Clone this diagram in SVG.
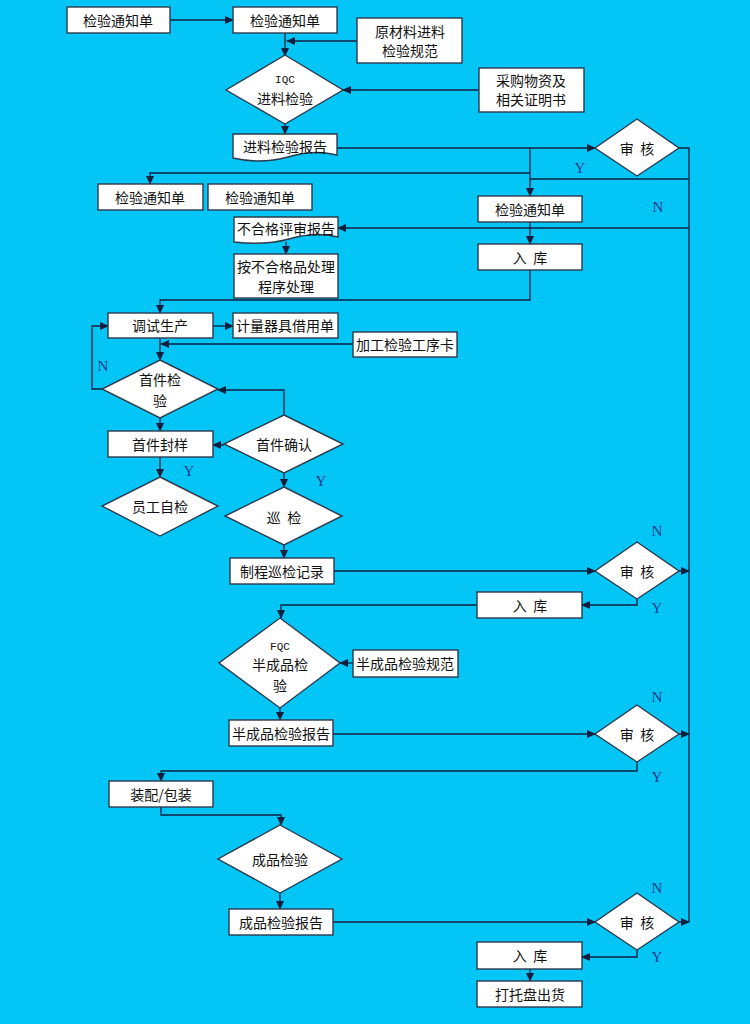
<svg xmlns="http://www.w3.org/2000/svg" width="750" height="1024" viewBox="0 0 750 1024">
<defs>
<style>
.b{fill:#fff;stroke:#2b3a4c;stroke-width:1.4}
.t{font-family:"Noto Sans CJK SC","Noto Sans CJK JP",sans-serif;font-size:14px;fill:#111;text-anchor:middle;dominant-baseline:central;white-space:pre}
.s{font-family:"Liberation Mono","DejaVu Sans Mono",monospace;font-size:11px;fill:#111;text-anchor:middle;dominant-baseline:central}
.c path{fill:none;stroke:#0d2040;stroke-width:1.3}
.l{font-family:"Liberation Serif","DejaVu Serif",serif;font-size:15px;fill:#1d3c8c;text-anchor:middle;dominant-baseline:central}
</style>
<marker id="a" markerWidth="9" markerHeight="8" refX="8" refY="4" orient="auto" markerUnits="userSpaceOnUse">
<path d="M0,0 L9,4 L0,8 Z" fill="#0d2040"/>
</marker>
</defs>
<rect width="750" height="1024" fill="#04c6f6"/>

<g class="c">
<path d="M170,20 H233" marker-end="url(#a)"/>
<path d="M285,33 V56" marker-end="url(#a)"/>
<path d="M357,41 H287" marker-end="url(#a)"/>
<path d="M479,90 H343" marker-end="url(#a)"/>
<path d="M285,124 V134" marker-end="url(#a)"/>
<path d="M337,148 H595" marker-end="url(#a)"/>
<path d="M679,148 H689 V922"/>
<path d="M689,179 H530"/>
<path d="M530,148 V196" marker-end="url(#a)"/>
<path d="M530,173 H150 V184" marker-end="url(#a)"/>
<path d="M689,228 H338" marker-end="url(#a)"/>
<path d="M286,242 V254" marker-end="url(#a)"/>
<path d="M530,222 V244" marker-end="url(#a)"/>
<path d="M530,270 V300 H160 V313" marker-end="url(#a)"/>
<path d="M213,326 H233" marker-end="url(#a)"/>
<path d="M353,344 H161" marker-end="url(#a)"/>
<path d="M160,338 V360" marker-end="url(#a)"/>
<path d="M102,389 H92 V326 H108" marker-end="url(#a)"/>
<path d="M284,415 V390 H218" marker-end="url(#a)"/>
<path d="M224,445 H213" marker-end="url(#a)"/>
<path d="M160,418 V431" marker-end="url(#a)"/>
<path d="M160,457 V477" marker-end="url(#a)"/>
<path d="M284,473 V487" marker-end="url(#a)"/>
<path d="M284,545 V558" marker-end="url(#a)"/>
<path d="M334,571 H595" marker-end="url(#a)"/>
<path d="M679,571 H689" marker-end="url(#a)"/>
<path d="M637,599 V605 H582" marker-end="url(#a)"/>
<path d="M477,605 H281 V618" marker-end="url(#a)"/>
<path d="M353,663 H340" marker-end="url(#a)"/>
<path d="M280,708 V720" marker-end="url(#a)"/>
<path d="M333,734 H595" marker-end="url(#a)"/>
<path d="M679,734 H689" marker-end="url(#a)"/>
<path d="M637,762 V771 H161 V781" marker-end="url(#a)"/>
<path d="M161,807 V815 H281 V825" marker-end="url(#a)"/>
<path d="M280,893 V909" marker-end="url(#a)"/>
<path d="M333,922 H595" marker-end="url(#a)"/>
<path d="M679,922 H689" marker-end="url(#a)"/>
<path d="M637,950 V957 H582" marker-end="url(#a)"/>
<path d="M530,969 V981" marker-end="url(#a)"/>
</g>

<g id="n1"><rect class="b" x="67" y="7" width="103" height="26"/><text class="t" x="118" y="20">检验通知单</text></g>
<g id="n2"><rect class="b" x="233" y="7" width="104" height="26"/><text class="t" x="285" y="20">检验通知单</text></g>
<g id="n3"><rect class="b" x="357" y="18" width="105" height="45"/><text class="t" x="410" y="31">原材料进料</text><text class="t" x="410" y="50">检验规范</text></g>
<g id="n4"><polygon class="b" points="285,55 343,90 285,124 226,90"/><text class="s" x="285" y="80">IQC</text><text class="t" x="285" y="98">进料检验</text></g>
<g id="n5"><rect class="b" x="479" y="68" width="105" height="44"/><text class="t" x="531" y="80">采购物资及</text><text class="t" x="531" y="99">相关证明书</text></g>
<g id="n6"><path class="b" d="M233,134 H337 V155 C322,151 305,152 288,157 C270,162 250,162 233,158 Z"/><text class="t" x="285" y="146">进料检验报告</text></g>
<g id="n7"><polygon class="b" points="637,119 679,148 637,176 595,148"/><text class="t" x="637" y="148" xml:space="preserve">审  核</text></g>
<g id="n8"><rect class="b" x="98" y="184" width="105" height="26"/><text class="t" x="150" y="197">检验通知单</text></g>
<g id="n9"><rect class="b" x="208" y="184" width="104" height="26"/><text class="t" x="260" y="197">检验通知单</text></g>
<g id="n10"><rect class="b" x="478" y="196" width="104" height="26"/><text class="t" x="530" y="209">检验通知单</text></g>
<g id="n11"><path class="b" d="M234,217 H338 V237 C323,233 306,234 289,239 C271,244 251,244 234,242 Z"/><text class="t" x="286" y="228">不合格评审报告</text></g>
<g id="n12"><rect class="b" x="478" y="244" width="104" height="26"/><text class="t" x="530" y="257" xml:space="preserve">入  库</text></g>
<g id="n13"><rect class="b" x="234" y="254" width="104" height="44"/><text class="t" x="286" y="266">按不合格品处理</text><text class="t" x="286" y="286">程序处理</text></g>
<g id="n14"><rect class="b" x="108" y="313" width="105" height="25"/><text class="t" x="160" y="325">调试生产</text></g>
<g id="n15"><rect class="b" x="233" y="313" width="105" height="25"/><text class="t" x="285" y="325">计量器具借用单</text></g>
<g id="n16"><rect class="b" x="353" y="332" width="104" height="25"/><text class="t" x="405" y="344">加工检验工序卡</text></g>
<g id="n17"><polygon class="b" points="160,360 218,389 160,418 102,389"/><text class="t" x="160" y="379">首件检</text><text class="t" x="160" y="400">验</text></g>
<g id="n18"><rect class="b" x="108" y="431" width="105" height="26"/><text class="t" x="160" y="444">首件封样</text></g>
<g id="n19"><polygon class="b" points="284,415 343,444 284,473 224,444"/><text class="t" x="284" y="444">首件确认</text></g>
<g id="n20"><polygon class="b" points="160,477 218,506 160,536 102,506"/><text class="t" x="160" y="506">员工自检</text></g>
<g id="n21"><polygon class="b" points="284,487 342,516 284,545 225,516"/><text class="t" x="284" y="517" xml:space="preserve">巡  检</text></g>
<g id="n22"><rect class="b" x="230" y="558" width="104" height="26"/><text class="t" x="282" y="571">制程巡检记录</text></g>
<g id="n23"><polygon class="b" points="637,542 679,571 637,599 595,571"/><text class="t" x="637" y="571" xml:space="preserve">审  核</text></g>
<g id="n24"><rect class="b" x="477" y="592" width="105" height="26"/><text class="t" x="530" y="605" xml:space="preserve">入  库</text></g>
<g id="n25"><polygon class="b" points="280,618 340,663 280,708 219,663"/><text class="s" x="280" y="647">FQC</text><text class="t" x="280" y="664">半成品检</text><text class="t" x="280" y="685">验</text></g>
<g id="n26"><rect class="b" x="353" y="650" width="105" height="27"/><text class="t" x="405" y="663">半成品检验规范</text></g>
<g id="n27"><rect class="b" x="229" y="720" width="104" height="26"/><text class="t" x="281" y="733">半成品检验报告</text></g>
<g id="n28"><polygon class="b" points="637,705 679,734 637,762 595,734"/><text class="t" x="637" y="734" xml:space="preserve">审  核</text></g>
<g id="n29"><rect class="b" x="109" y="781" width="104" height="26"/><text class="t" x="161" y="794">装配/包装</text></g>
<g id="n30"><polygon class="b" points="280,825 342,859 280,893 218,859"/><text class="t" x="280" y="859">成品检验</text></g>
<g id="n31"><rect class="b" x="229" y="909" width="104" height="26"/><text class="t" x="281" y="922">成品检验报告</text></g>
<g id="n32"><polygon class="b" points="637,893 679,922 637,950 595,922"/><text class="t" x="637" y="922" xml:space="preserve">审  核</text></g>
<g id="n33"><rect class="b" x="477" y="942" width="105" height="27"/><text class="t" x="530" y="955" xml:space="preserve">入  库</text></g>
<g id="n34"><rect class="b" x="477" y="981" width="105" height="26"/><text class="t" x="530" y="994">打托盘出货</text></g>

<g id="labels">
<text class="l" x="580" y="168">Y</text>
<text class="l" x="658" y="207">N</text>
<text class="l" x="103" y="366">N</text>
<text class="l" x="189" y="471">Y</text>
<text class="l" x="321" y="481">Y</text>
<text class="l" x="657" y="531">N</text>
<text class="l" x="657" y="608">Y</text>
<text class="l" x="657" y="697">N</text>
<text class="l" x="657" y="777">Y</text>
<text class="l" x="657" y="888">N</text>
<text class="l" x="657" y="957">Y</text>
</g>
</svg>
